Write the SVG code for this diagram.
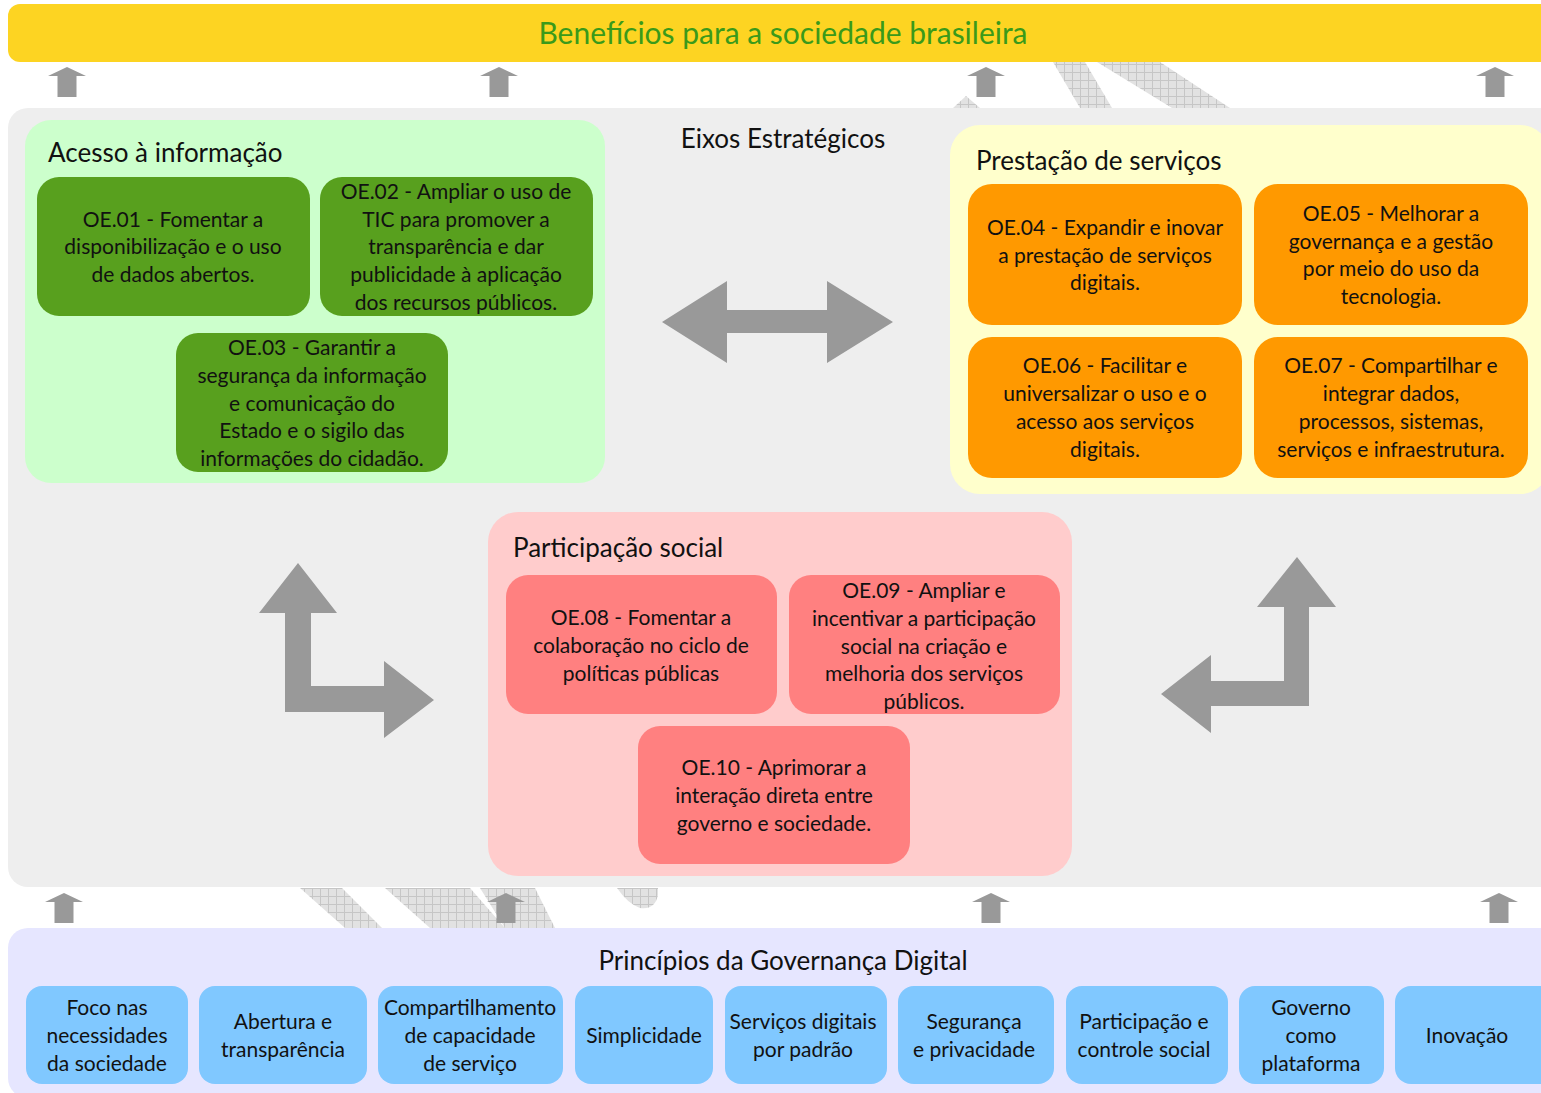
<svg xmlns="http://www.w3.org/2000/svg" width="1541" height="1093" viewBox="0 0 1541 1093">
<style>
text{font-family:Lato,"Open Sans","Liberation Sans",sans-serif;fill:#111}
.oe{font-size:21px;text-anchor:middle}
.gt{font-size:26px}
.pr{font-size:21px;text-anchor:middle}
.ar{fill:#999999}
.g{fill:#58A01E}
.o{fill:#FF9900}
.p{fill:#FF8080}
.b{fill:#80C8FF}
</style>
<defs>
<pattern id="hatch" width="8" height="8" patternUnits="userSpaceOnUse">
<rect width="8" height="8" fill="#e2e2e2"/>
<path d="M0 0.5H8M0.5 0V8" stroke="#c6c6c6" stroke-width="1"/>
</pattern>
<path id="up" d="M0 0L19 9H9.5V30H-9.5V9H-19Z"/>
</defs>
<rect width="1541" height="1093" fill="#ffffff"/>
<g id="decor" fill="url(#hatch)">
<polygon points="953,108 966,96 980,108"/>
<polygon points="1053,62 1085,62 1112,108 1080,108"/>
<polygon points="1097,62 1160,62 1230,108 1172,108"/>
<polygon points="300,888 342,888 382,928 345,928"/>
<polygon points="385,888 470,888 505,928 430,928"/>
<polygon points="480,888 535,888 555,928 505,928"/>
<path d="M617 888H658V895Q655 910 640 908Q628 904 617 888Z"/>
</g>
<g id="benefits">
<rect x="8" y="4" width="1560" height="58" rx="12" fill="#FDD422"/>
<text x="783" y="44" font-size="30" text-anchor="middle" style="fill:#3A9A1A">Benefícios para a sociedade brasileira</text>
</g>
<g id="eixos">
<rect x="8" y="108" width="1560" height="779" rx="20" fill="#EEEEEE"/>
<text x="783" y="148" class="gt" text-anchor="middle">Eixos Estratégicos</text>
</g>
<g id="acesso">
<rect x="25" y="120" width="580" height="363" rx="26" fill="#CCFFCC"/>
<text x="48" y="162" class="gt">Acesso à informação</text>
</g>
<g id="oe01"><rect x="37" y="177" width="273" height="139" rx="22" class="g"/>
<text class="oe"><tspan x="173" y="227">OE.01 - Fomentar a</tspan><tspan x="173" y="254">disponibilização e o uso</tspan><tspan x="173" y="282">de dados abertos.</tspan></text></g>
<g id="oe02"><rect x="320" y="177" width="273" height="139" rx="22" class="g"/>
<text class="oe"><tspan x="456" y="199">OE.02 - Ampliar o uso de</tspan><tspan x="456" y="227">TIC para promover a</tspan><tspan x="456" y="254">transparência e dar</tspan><tspan x="456" y="282">publicidade à aplicação</tspan><tspan x="456" y="310">dos recursos públicos.</tspan></text></g>
<g id="oe03"><rect x="176" y="333" width="272" height="139" rx="22" class="g"/>
<text class="oe"><tspan x="312" y="355">OE.03 - Garantir a</tspan><tspan x="312" y="383">segurança da informação</tspan><tspan x="312" y="411">e comunicação do</tspan><tspan x="312" y="438">Estado e o sigilo das</tspan><tspan x="312" y="466">informações do cidadão.</tspan></text></g>
<g id="prestacao">
<rect x="950" y="125" width="600" height="369" rx="30" fill="#FFFFCC"/>
<text x="976" y="170" class="gt">Prestação de serviços</text>
</g>
<g id="oe04"><rect x="968" y="184" width="274" height="141" rx="24" class="o"/>
<text class="oe"><tspan x="1105" y="235">OE.04 - Expandir e inovar</tspan><tspan x="1105" y="263">a prestação de serviços</tspan><tspan x="1105" y="290">digitais.</tspan></text></g>
<g id="oe05"><rect x="1254" y="184" width="274" height="141" rx="24" class="o"/>
<text class="oe"><tspan x="1391" y="221">OE.05 - Melhorar a</tspan><tspan x="1391" y="249">governança e a gestão</tspan><tspan x="1391" y="276">por meio do uso da</tspan><tspan x="1391" y="304">tecnologia.</tspan></text></g>
<g id="oe06"><rect x="968" y="337" width="274" height="141" rx="24" class="o"/>
<text class="oe"><tspan x="1105" y="373">OE.06 - Facilitar e</tspan><tspan x="1105" y="401">universalizar o uso e o</tspan><tspan x="1105" y="429">acesso aos serviços</tspan><tspan x="1105" y="457">digitais.</tspan></text></g>
<g id="oe07"><rect x="1254" y="337" width="274" height="141" rx="24" class="o"/>
<text class="oe"><tspan x="1391" y="373">OE.07 - Compartilhar e</tspan><tspan x="1391" y="401">integrar dados,</tspan><tspan x="1391" y="429">processos, sistemas,</tspan><tspan x="1391" y="457">serviços e infraestrutura.</tspan></text></g>
<g id="participacao">
<rect x="488" y="512" width="584" height="364" rx="30" fill="#FFCCCC"/>
<text x="513" y="557" class="gt">Participação social</text>
</g>
<g id="oe08"><rect x="506" y="575" width="271" height="139" rx="22" class="p"/>
<text class="oe"><tspan x="641" y="625">OE.08 - Fomentar a</tspan><tspan x="641" y="653">colaboração no ciclo de</tspan><tspan x="641" y="681">políticas públicas</tspan></text></g>
<g id="oe09"><rect x="789" y="575" width="271" height="139" rx="22" class="p"/>
<text class="oe"><tspan x="924" y="598">OE.09 - Ampliar e</tspan><tspan x="924" y="626">incentivar a participação</tspan><tspan x="924" y="654">social na criação e</tspan><tspan x="924" y="681">melhoria dos serviços</tspan><tspan x="924" y="709">públicos.</tspan></text></g>
<g id="oe10"><rect x="638" y="726" width="272" height="138" rx="22" class="p"/>
<text class="oe"><tspan x="774" y="775">OE.10 - Aprimorar a</tspan><tspan x="774" y="803">interação direta entre</tspan><tspan x="774" y="831">governo e sociedade.</tspan></text></g>
<g id="principios">
<rect x="8" y="928" width="1560" height="170" rx="20" fill="#E6E6FF"/>
<text x="783" y="970" class="gt" text-anchor="middle">Princípios da Governança Digital</text>
</g>
<g id="p1"><rect x="26" y="986" width="162" height="98" rx="16" class="b"/><text class="pr"><tspan x="107" y="1015">Foco nas</tspan><tspan x="107" y="1043">necessidades</tspan><tspan x="107" y="1071">da sociedade</tspan></text></g>
<g id="p2"><rect x="199" y="986" width="168" height="98" rx="16" class="b"/><text class="pr"><tspan x="283" y="1029">Abertura e</tspan><tspan x="283" y="1057">transparência</tspan></text></g>
<g id="p3"><rect x="378" y="986" width="185" height="98" rx="16" class="b"/><text class="pr"><tspan x="470" y="1015">Compartilhamento</tspan><tspan x="470" y="1043">de capacidade</tspan><tspan x="470" y="1071">de serviço</tspan></text></g>
<g id="p4"><rect x="575" y="986" width="138" height="98" rx="16" class="b"/><text class="pr"><tspan x="644" y="1043">Simplicidade</tspan></text></g>
<g id="p5"><rect x="725" y="986" width="162" height="98" rx="16" class="b"/><text class="pr"><tspan x="803" y="1029">Serviços digitais</tspan><tspan x="803" y="1057">por padrão</tspan></text></g>
<g id="p6"><rect x="898" y="986" width="156" height="98" rx="16" class="b"/><text class="pr"><tspan x="974" y="1029">Segurança</tspan><tspan x="974" y="1057">e privacidade</tspan></text></g>
<g id="p7"><rect x="1066" y="986" width="162" height="98" rx="16" class="b"/><text class="pr"><tspan x="1144" y="1029">Participação e</tspan><tspan x="1144" y="1057">controle social</tspan></text></g>
<g id="p8"><rect x="1239" y="986" width="145" height="98" rx="16" class="b"/><text class="pr"><tspan x="1311" y="1015">Governo</tspan><tspan x="1311" y="1043">como</tspan><tspan x="1311" y="1071">plataforma</tspan></text></g>
<g id="p9"><rect x="1395" y="986" width="160" height="98" rx="16" class="b"/><text class="pr"><tspan x="1467" y="1043">Inovação</tspan></text></g>
<g id="connectors" class="ar">
<use href="#up" x="67" y="67"/>
<use href="#up" x="499" y="67"/>
<use href="#up" x="986" y="67"/>
<use href="#up" x="1495" y="67"/>
<use href="#up" x="64" y="893"/>
<use href="#up" x="506" y="893"/>
<use href="#up" x="991" y="893"/>
<use href="#up" x="1499" y="893"/>
<polygon points="662,322 727,281 727,310 827,310 827,281 893,322 827,363 827,333 727,333 727,363"/>
<polygon points="298,563 337,613 311,613 311,686 384,686 384,661 434,700 384,738 384,712 285,712 285,613 259,613"/>
<polygon points="1297,557 1336,607 1309,607 1309,706 1211,706 1211,733 1161,694 1211,655 1211,681 1284,681 1284,607 1257,607"/>
</g>
</svg>
